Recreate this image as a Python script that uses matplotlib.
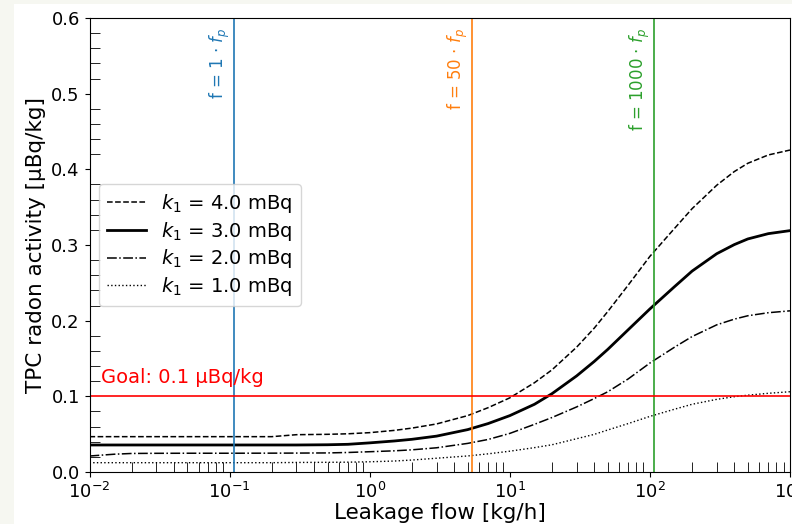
import numpy as np
import matplotlib
matplotlib.use('Agg')
from matplotlib import pyplot as plt
from matplotlib.ticker import MultipleLocator

# leakage flow [kg/h] and TPC radon activity [uBq/kg]
flow = [0.01, 0.012, 0.015, 0.02, 0.03, 0.05, 0.1, 0.2, 0.3, 0.5, 0.7, 1, 1.5, 2, 3, 5, 7,
        10, 15, 20, 30, 40, 50, 70, 100, 150, 200, 300, 400, 500, 700, 1000]
act_k4 = [0.0467, 0.0467, 0.0467, 0.0467, 0.0467, 0.0467, 0.0467, 0.0467, 0.0493, 0.0498,
          0.0505, 0.0520, 0.0550, 0.0580, 0.0635, 0.0745, 0.0850, 0.0980, 0.1180, 0.1350,
          0.1650, 0.1900, 0.2120, 0.2470, 0.2850, 0.3220, 0.3480, 0.3790, 0.3970, 0.4080,
          0.4190, 0.4255]
act_k3 = [0.0357, 0.0357, 0.0357, 0.0357, 0.0357, 0.0357, 0.0357, 0.0357, 0.0357, 0.0360,
          0.0366, 0.0385, 0.0410, 0.0432, 0.0474, 0.0560, 0.0640, 0.0745, 0.0895, 0.1035,
          0.1270, 0.1460, 0.1620, 0.1880, 0.2155, 0.2450, 0.2655, 0.2885, 0.3005, 0.3080,
          0.3150, 0.3190]
act_k2 = [0.0211, 0.0222, 0.0235, 0.0245, 0.0247, 0.0248, 0.0248, 0.0249, 0.0250, 0.0252,
          0.0258, 0.0268, 0.0280, 0.0293, 0.0320, 0.0378, 0.0430, 0.0510, 0.0630, 0.0720,
          0.0860, 0.0970, 0.1060, 0.1230, 0.1440, 0.1650, 0.1790, 0.1945, 0.2020, 0.2065,
          0.2105, 0.2130]
act_k1 = [0.0123, 0.0123, 0.0123, 0.0123, 0.0123, 0.0123, 0.0123, 0.0123, 0.0126, 0.0128,
          0.0130, 0.0135, 0.0145, 0.0158, 0.0182, 0.0212, 0.0240, 0.0275, 0.0322, 0.0360,
          0.0440, 0.0497, 0.0555, 0.0640, 0.0735, 0.0830, 0.0895, 0.0960, 0.0995, 0.1015,
          0.1040, 0.1061]

k1_labels = [r'$k_1$ = 4.0 mBq', r'$k_1$ = 3.0 mBq', r'$k_1$ = 2.0 mBq', r'$k_1$ = 1.0 mBq']

f_p = 0.1075          # kg/h
factors = [1, 50, 1000]
factor_colors = ['#1f77b4', '#ff7f0e', '#2ca02c']
goal = 0.1

fig = plt.figure(figsize=(7.92, 5.24), dpi=100, facecolor='#f6f7f1')
# white page area (the reference is a crop of a larger figure)
fig.patches.append(plt.Rectangle((14/792, 0), 1, 1 - 4/524, transform=fig.transFigure,
                                 facecolor='white', edgecolor='none', zorder=-10))
ax = fig.add_axes([89.5/792, 1 - 472/524, 700.5/792, 454/524])

ax.plot(flow, act_k4, '--', color='black', lw=1.1, label=k1_labels[0])
ax.plot(flow, act_k3, '-', color='black', lw=2, label=k1_labels[1])
ax.plot(flow, act_k2, '-.', color='black', lw=1.1, label=k1_labels[2])
ax.plot(flow, act_k1, ':', color='black', lw=1, label=k1_labels[3])

for fac, c in zip(factors, factor_colors):
    ax.axvline(fac*f_p, color=c, lw=1.2)
    ax.annotate(r'f = %d $\cdot$ $f_p$' % fac, xy=(fac*f_p, 0.6), xytext=(-1.5, -7),
                textcoords='offset points', rotation=90, ha='right', va='top',
                color=c, fontsize=12)

ax.axhline(goal, color='red', lw=1.2)
ax.text(0.012, 0.112, 'Goal: 0.1 µBq/kg', color='red', fontsize=14, va='bottom')

ax.set_xscale('log')
ax.set_xlim(1e-2, 1e3)
ax.set_ylim(0, 0.6)
ax.yaxis.set_major_locator(MultipleLocator(0.1))
ax.yaxis.set_minor_locator(MultipleLocator(0.02))
ax.tick_params(which='major', direction='out', length=3.5, labelsize=13)
ax.tick_params(which='minor', direction='in', length=7)
ax.set_xlabel('Leakage flow [kg/h]', fontsize=15.5, labelpad=0.5)
ax.set_ylabel('TPC radon activity [µBq/kg]', fontsize=15.5)
ax.legend(loc='center left', fontsize=14, labelspacing=0.25)

fig.savefig('out.png', dpi=100, facecolor=fig.get_facecolor())
